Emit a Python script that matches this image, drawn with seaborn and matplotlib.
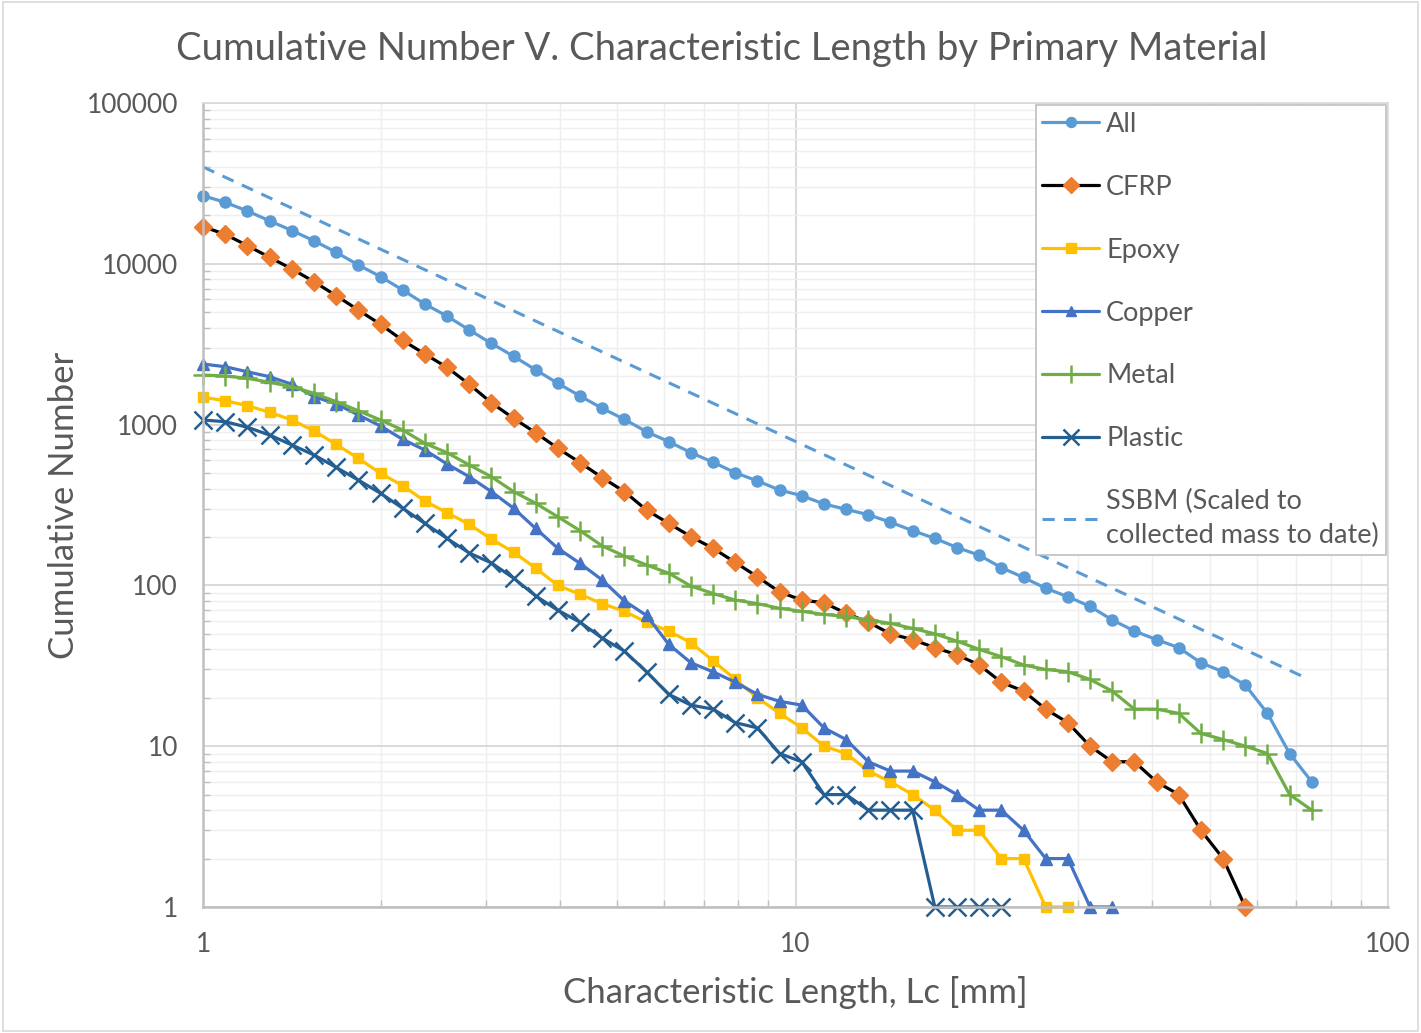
import matplotlib
matplotlib.use("Agg")
import matplotlib.pyplot as plt
from matplotlib.ticker import LogLocator, NullFormatter, FixedLocator, FixedFormatter
from matplotlib.patches import Rectangle
import pandas as pd
import seaborn as sns

# ---------------- data ----------------
lc_mm = [1.000, 1.090, 1.188, 1.295, 1.412, 1.539, 1.677, 1.828, 1.993, 2.172,
         2.367, 2.580, 2.813, 3.066, 3.342, 3.642, 3.970, 4.328, 4.717, 5.142,
         5.604, 6.109, 6.659, 7.258, 7.911, 8.623, 9.399, 10.245, 11.167, 12.172,
         13.268, 14.462, 15.763, 17.182, 18.728, 20.414, 22.251, 24.254, 26.437, 28.816,
         31.409, 34.236, 37.318, 40.676, 44.337, 48.327, 52.677, 57.418, 62.585, 68.218,
         74.358]

all_counts = [26500, 24100, 21300, 18500, 16100, 13900, 11800, 9840, 8320, 6870,
              5620, 4730, 3880, 3200, 2660, 2190, 1805, 1506, 1262, 1078,
              903, 783, 669, 583, 502, 446, 392, 361, 321, 297,
              275, 247, 219, 196, 172, 154, 129, 112, 96, 85,
              74, 61, 52, 46, 41, 33, 29, 24, 16, 9, 6]

cfrp_counts = [17000, 15250, 12970, 10970, 9290, 7740, 6340, 5160, 4200, 3340,
               2750, 2270, 1781, 1368, 1094, 890, 712, 580, 468, 383,
               294, 243, 201, 170, 139, 113, 91, 81, 78, 67,
               59, 50, 46, 41, 37, 32, 25, 22, 17, 14,
               10, 8, 8, 6, 5, 3, 2, 1]

epoxy_counts = [1479, 1408, 1311, 1193, 1068, 913, 754, 617, 498, 417,
                335, 283, 240, 194, 161, 128, 100, 88, 77, 69,
                59, 52, 44, 34, 26, 20, 16, 13, 10, 9,
                7, 6, 5, 4, 3, 3, 2, 2, 1, 1]

copper_counts = [2380, 2290, 2130, 1985, 1782, 1492, 1344, 1148, 980, 810,
                 695, 569, 474, 383, 302, 226, 170, 137, 108, 80,
                 65, 43, 33, 29, 25, 21, 19, 18, 13, 11,
                 8, 7, 7, 6, 5, 4, 4, 3, 2, 2, 1, 1]

metal_counts = [2034, 2004, 1940, 1833, 1721, 1566, 1388, 1220, 1068, 925,
                765, 669, 561, 474, 383, 324, 267, 219, 176, 152,
                134, 119, 99, 89, 81, 77, 72, 69, 66, 64,
                61, 58, 54, 50, 45, 40, 36, 32, 30, 29,
                26, 22, 17, 17, 16, 12, 11, 10, 9, 5, 4]

plastic_counts = [1068, 1042, 962, 861, 747, 647, 542, 452, 374, 302,
                  243, 196, 159, 138, 111, 86, 70, 59, 47, 39,
                  29, 21, 18, 17, 14, 13, 9, 8, 5, 5,
                  4, 4, 4, 1, 1, 1, 1]

ssbm_lc = [1.0, 72.0]
ssbm_counts = [40000, 27]

series_names = ["All", "CFRP", "Epoxy", "Copper", "Metal", "Plastic",
                "SSBM (Scaled to\ncollected mass to date)"]

x_ticks = [1, 10, 100]
x_tick_labels = ["1", "10", "100"]
y_ticks = [1, 10, 100, 1000, 10000, 100000]
y_tick_labels = ["1", "10", "100", "1000", "10000", "100000"]

title = "Cumulative Number V. Characteristic Length by Primary Material"
x_label = "Characteristic Length, Lc [mm]"
y_label = "Cumulative Number"

# ---------------- style ----------------
sns.set_theme(style="white")
plt.rcParams['font.family'] = ['Lato', 'DejaVu Sans']
TXT = "#595959"

fig = plt.figure(figsize=(14.21, 10.33), dpi=100)
fig.patch.set_facecolor("white")
fig.patches.append(Rectangle((0.002, 0.002), 0.996, 0.996, transform=fig.transFigure,
                             fill=False, edgecolor="#D9D9D9", linewidth=1.2))
ax = fig.add_axes([0.1429, 0.1220, 0.8339, 0.7783])
ax.set_xscale("log")
ax.set_yscale("log")

styles = [
    # line color, marker face, marker, size, edge width
    ("#5B9BD5", "#5B9BD5", "o", 8, 1.0),
    ("#000000", "#ED7D31", "D", 9.5, 1.0),
    ("#FFC000", "#FFC000", "s", 7.5, 1.0),
    ("#4472C4", "#4472C4", "^", 8, 1.0),
    ("#70AD47", "#70AD47", "+", 14, 1.8),
    ("#255E91", "#255E91", "x", 13, 1.8),
]
all_series = [all_counts, cfrp_counts, epoxy_counts, copper_counts, metal_counts, plastic_counts]

for name, counts, (lcol, mcol, mk, ms, mew) in zip(series_names, all_series, styles):
    df = pd.DataFrame({"lc": lc_mm[:len(counts)], "n": counts})
    sns.lineplot(data=df, x="lc", y="n", ax=ax, color=lcol, linewidth=2.3,
                 marker=mk, markersize=ms, markerfacecolor=mcol,
                 markeredgecolor=mcol, markeredgewidth=mew,
                 estimator=None, sort=False, label=name, clip_on=False)

df_ssbm = pd.DataFrame({"lc": ssbm_lc, "n": ssbm_counts})
sns.lineplot(data=df_ssbm, x="lc", y="n", ax=ax, color="#5B9BD5", linewidth=2.2,
             dashes=False, linestyle=(0, (4, 3)), estimator=None, sort=False,
             label=series_names[6])

ax.set_xlim(1, 100)
ax.set_ylim(1, 100000)

ax.xaxis.set_major_locator(FixedLocator(x_ticks))
ax.xaxis.set_major_formatter(FixedFormatter(x_tick_labels))
ax.yaxis.set_major_locator(FixedLocator(y_ticks))
ax.yaxis.set_major_formatter(FixedFormatter(y_tick_labels))
ax.xaxis.set_minor_locator(LogLocator(base=10, subs=range(2, 10)))
ax.yaxis.set_minor_locator(LogLocator(base=10, subs=range(2, 10)))
ax.xaxis.set_minor_formatter(NullFormatter())
ax.yaxis.set_minor_formatter(NullFormatter())

ax.grid(which="major", color="#D9D9D9", linewidth=1.4)
ax.grid(which="minor", color="#EFEFEF", linewidth=1.0)
ax.set_axisbelow(True)

ax.tick_params(which="major", length=0, labelsize=19, labelcolor=TXT, pad=18)
ax.tick_params(which="minor", direction="in", length=5, color="#BFBFBF", width=1)
ax.tick_params(axis="y", which="minor", left=True)
ax.tick_params(axis="x", which="minor", bottom=True)

for side in ["left", "bottom"]:
    ax.spines[side].set_color("#BFBFBF")
    ax.spines[side].set_linewidth(1.8)
for side in ["top", "right"]:
    ax.spines[side].set_color("#D9D9D9")
    ax.spines[side].set_linewidth(1.2)

ax.set_xlabel(x_label, fontsize=25, color=TXT, labelpad=14)
ax.set_ylabel(y_label, fontsize=25, color=TXT, labelpad=5)
fig.text(0.508, 0.953, title, ha="center", va="center", fontsize=27.5, color=TXT)

handles, labels = ax.get_legend_handles_labels()
leg = ax.legend(handles, labels, loc="upper right", bbox_to_anchor=(0.998, 0.9975),
                borderaxespad=0, frameon=True, fancybox=False, framealpha=1,
                edgecolor="#BFBFBF", fontsize=19.5, labelcolor=TXT,
                handlelength=2.1, handletextpad=0.25, labelspacing=1.4,
                borderpad=0.25, markerscale=0.9)
leg.get_frame().set_linewidth(1.2)
for t in leg.get_texts():
    t.set_linespacing(1.45)

fig.savefig("out.png", dpi=100, facecolor="white")
